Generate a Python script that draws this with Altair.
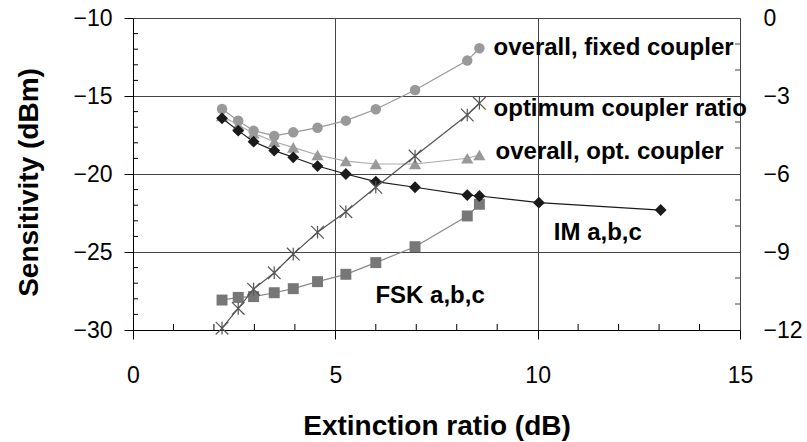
import altair as alt
import pandas as pd

# ---------------- data ----------------
# extinction ratio (dB) shared by the measured series
er = [2.2, 2.6, 2.98, 3.49, 3.96, 4.56, 5.26, 6.0, 6.97, 8.26, 8.56]
im_er = [2.2, 2.6, 2.98, 3.49, 3.96, 4.56, 5.26, 6.0, 6.97, 8.26, 8.56, 10.03, 13.04]

im_sens = [-16.43, -17.22, -17.93, -18.5, -18.93, -19.49, -20.0, -20.49, -20.85,
           -21.35, -21.41, -21.84, -22.31]
fixed_sens = [-15.83, -16.58, -17.22, -17.56, -17.33, -17.03, -16.58, -15.85,
              -14.62, -12.73, -11.94]
opt_sens = [-16.28, -16.86, -17.39, -17.93, -18.29, -18.78, -19.17, -19.36,
            -19.36, -18.99, -18.78]
fsk_sens = [-28.08, -27.91, -27.86, -27.61, -27.35, -26.9, -26.43, -25.68,
            -24.66, -22.69, -21.94]
# optimum coupler ratio (right axis)
ratio = [-11.93, -11.17, -10.43, -9.8, -9.08, -8.24, -7.45, -6.51, -5.31,
         -3.73, -3.28]

x_ticks = [0, 5, 10, 15]
y_ticks = [-30, -25, -20, -15, -10]
r_ticks = [-12, -9, -6, -3, 0]
x_minor = [1, 2, 3, 4, 6, 7, 8, 9, 11, 12, 13, 14]
y_minor = [-29, -28, -27, -26, -24, -23, -22, -21, -19, -18, -17, -16,
           -14, -13, -12, -11]
r_minor = [-11, -10, -8, -7, -5, -4, -2, -1]

labels = ["overall, fixed coupler", "optimum coupler ratio",
          "overall, opt. coupler", "IM a,b,c", "FSK a,b,c"]
label_x = [8.91, 8.91, 8.96, 10.4, 5.99]
label_y = [-11.92, -15.83, -18.59, -23.78, -27.82]

# ---------------- layout ----------------
W, H = 607, 312
FONT = "Liberation Sans"

xs = alt.Scale(domain=[0, 15], nice=False, zero=False)
ys = alt.Scale(domain=[-30, -10], nice=False, zero=False)
rs = alt.Scale(domain=[-12, 0], nice=False, zero=False)

x_axis = alt.Axis(values=x_ticks, title="Extinction ratio (dB)", grid=True,
                  gridColor="#444", gridWidth=1, tickSize=9, tickColor="#000",
                  domainColor="#000", labelFontSize=23, labelPadding=25,
                  labelColor="#000", titleFontSize=28, titleFontWeight="bold",
                  titleColor="#000", titleBaseline="alphabetic", titleY=104,
                  labelFlush=False)
y_axis = alt.Axis(values=y_ticks, title="Sensitivity (dBm)", grid=True,
                  gridColor="#444", gridWidth=1, tickSize=9, tickColor="#000",
                  domainColor="#000", labelFontSize=23, labelPadding=12,
                  labelColor="#000", titleFontSize=28, titleFontWeight="bold",
                  titleColor="#000", titleAngle=-90, titleBaseline="alphabetic",
                  titleX=-96, titleY=164, titleAlign="center", labelFlush=False)
r_axis = alt.Axis(values=r_ticks, orient="right", title=None, grid=False,
                  ticks=False, domain=False, labelFontSize=23, labelPadding=23,
                  labelColor="#000", labelFlush=False)

X = alt.X("x:Q", scale=xs, axis=x_axis)
Y = alt.Y("y:Q", scale=ys, axis=y_axis)
R = alt.Y("y:Q", scale=rs, axis=r_axis)


def df(xv, yv):
    return pd.DataFrame({"x": xv, "y": yv})


def series(xv, yv, yenc, color, line_color, shape, size, filled=True, sw=1.2):
    d = df(xv, yv)
    line = alt.Chart(d).mark_line(color=line_color, strokeWidth=sw).encode(x=X, y=yenc)
    if filled:
        pts = alt.Chart(d).mark_point(shape=shape, filled=True, size=size,
                                      color=color, opacity=1).encode(x=X, y=yenc)
    else:
        pts = alt.Chart(d).mark_point(shape=shape, filled=False, size=size,
                                      color=color, opacity=1,
                                      strokeWidth=1.2).encode(x=X, y=yenc)
    return [line, pts]


x_minor_rules = alt.Chart(pd.DataFrame({"x": x_minor})).mark_rule(
    color="#000").encode(x=X, y=alt.value(H), y2=alt.value(H - 6))
y_minor_rules = alt.Chart(pd.DataFrame({"y": y_minor})).mark_rule(
    color="#000").encode(y=Y, x=alt.value(0), x2=alt.value(5))
r_minor_rules = alt.Chart(pd.DataFrame({"y": r_minor})).mark_rule(
    color="#444").encode(y=R, x=alt.value(W), x2=alt.value(W - 5))

left_layers = [x_minor_rules, y_minor_rules]
left_layers += series(er, fixed_sens, Y, "#999999", "#999999", "circle", 110)
left_layers += series(er, opt_sens, Y, "#999999", "#aaaaaa", "triangle-up", 150)
left_layers += series(er, fsk_sens, Y, "#777777", "#888888", "square", 120)
left_layers += series(im_er, im_sens, Y, "#1a1a1a", "#1a1a1a", "diamond", 140)

text_df = pd.DataFrame({"x": label_x, "y": label_y, "label": labels})
text = alt.Chart(text_df).mark_text(align="left", baseline="middle", fontSize=24,
                                    fontWeight="bold", color="#000",
                                    font=FONT).encode(x=X, y=Y, text="label:N")
left_layers.append(text)

asterisk = "M-1,-1L1,1M1,-1L-1,1M0,-1L0,1"
right_layers = [r_minor_rules]
right_layers += series(er, ratio, R, "#555555", "#555555", asterisk, 160,
                       filled=False)

left = alt.layer(*left_layers)
right = alt.layer(*right_layers)

chart = alt.layer(left, right).resolve_scale(y="independent").properties(
    width=W, height=H,
    autosize=alt.AutoSizeParams(type="none"),
    padding={"left": 133, "top": 18, "right": 67, "bottom": 112},
    background="white",
).configure(font=FONT).configure_view(stroke="#444", strokeWidth=1)

chart.save("out.html", embed_options={"renderer": "svg", "actions": False})
